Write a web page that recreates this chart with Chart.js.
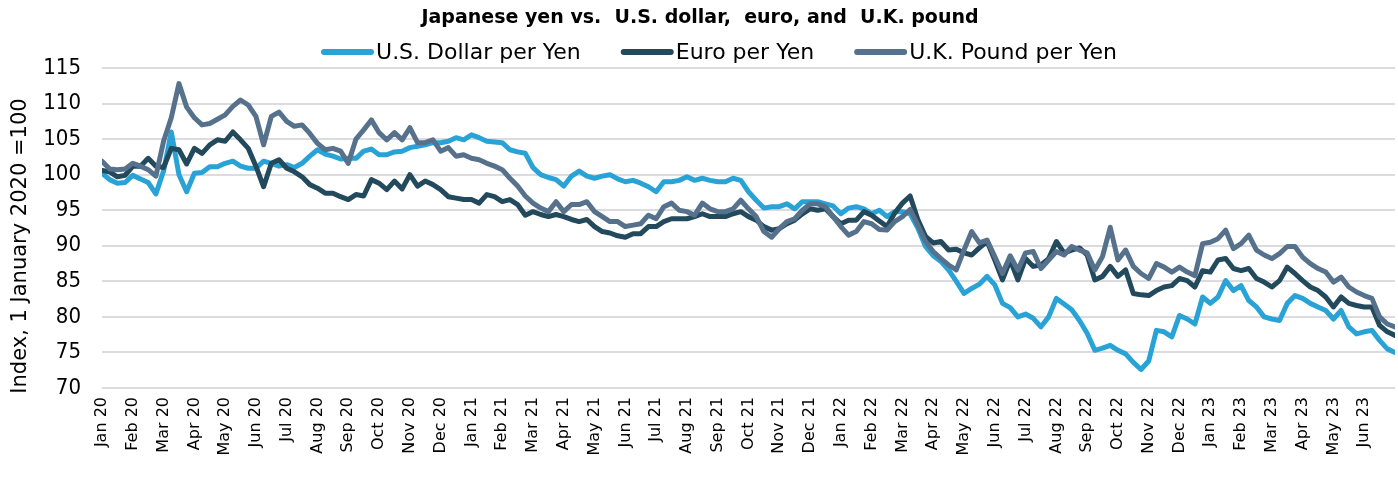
<!DOCTYPE html>
<html>
<head>
<meta charset="utf-8">
<title>Japanese yen vs. U.S. dollar, euro, and U.K. pound</title>
<script src="https://cdn.jsdelivr.net/npm/chart.js@4.4.1/dist/chart.umd.min.js"></script>
<style>
  html, body { margin: 0; padding: 0; background: #ffffff; }
  #wrap { width: 1398px; height: 477px; }
</style>
</head>
<body>
<div id="wrap"><canvas id="chart-yen" width="1398" height="477"></canvas></div>
<script>
// Yen index vs USD / EUR / GBP, 1 Jan 2020 = 100
const TITLE = "Japanese yen vs.  U.S. dollar,  euro, and  U.K. pound";
const Y_TITLE = "Index, 1 January 2020 =100";

const MONTH_LABELS = [
  "Jan 20", "Feb 20", "Mar 20", "Apr 20", "May 20", "Jun 20", "Jul 20", "Aug 20", "Sep 20", "Oct 20", "Nov 20", "Dec 20",
  "Jan 21", "Feb 21", "Mar 21", "Apr 21", "May 21", "Jun 21", "Jul 21", "Aug 21", "Sep 21", "Oct 21", "Nov 21", "Dec 21",
  "Jan 22", "Feb 22", "Mar 22", "Apr 22", "May 22", "Jun 22", "Jul 22", "Aug 22", "Sep 22", "Oct 22", "Nov 22", "Dec 22",
  "Jan 23", "Feb 23", "Mar 23", "Apr 23", "May 23", "Jun 23",
];

const Y_TICKS = [70, 75, 80, 85, 90, 95, 100, 105, 110, 115];

const SERIES_NAMES = ["U.S. Dollar per Yen", "Euro per Yen", "U.K. Pound per Yen"];

// sample dates, in months since 1 Jan 2020 (about weekly)
const MONTH_POS = [
  0, 0.25, 0.5, 0.75,  1, 1.25, 1.5, 1.75,  2, 2.25, 2.5, 2.75,  3, 3.25, 3.5, 3.75,
  4, 4.25, 4.5, 4.75,  5, 5.25, 5.5, 5.75,  6, 6.25, 6.5, 6.75,  7, 7.25, 7.5, 7.75,
  8, 8.25, 8.5, 8.75,  9, 9.25, 9.5, 9.75,  10, 10.25, 10.5, 10.75,  11, 11.25, 11.5, 11.75,
  12, 12.25, 12.5, 12.75,  13, 13.25, 13.5, 13.75,  14, 14.25, 14.5, 14.75,  15, 15.25, 15.5, 15.75,
  16, 16.25, 16.5, 16.75,  17, 17.25, 17.5, 17.75,  18, 18.25, 18.5, 18.75,  19, 19.25, 19.5, 19.75,
  20, 20.25, 20.5, 20.75,  21, 21.25, 21.5, 21.75,  22, 22.25, 22.5, 22.75,  23, 23.25, 23.5, 23.75,
  24, 24.25, 24.5, 24.75,  25, 25.25, 25.5, 25.75,  26, 26.25, 26.5, 26.75,  27, 27.25, 27.5, 27.75,
  28, 28.25, 28.5, 28.75,  29, 29.25, 29.5, 29.75,  30, 30.25, 30.5, 30.75,  31, 31.25, 31.5, 31.75,
  32, 32.25, 32.5, 32.75,  33, 33.25, 33.5, 33.75,  34, 34.25, 34.5, 34.75,  35, 35.25, 35.5, 35.75,
  36, 36.25, 36.5, 36.75,  37, 37.25, 37.5, 37.75,  38, 38.25, 38.5, 38.75,  39, 39.25, 39.5, 39.75,
  40, 40.25, 40.5, 40.75,  41, 41.25, 41.5, 41.75,  42,
];

const USD = [
  100.2, 99.3, 98.8, 98.9,  99.9, 99.4, 98.9, 97.3,  100.5, 106.0, 100.0, 97.6,  100.2, 100.3, 101.1, 101.1,
  101.6, 101.9, 101.2, 100.9,  100.9, 101.9, 101.6, 101.2,  101.4, 101.0, 101.6, 102.6,  103.5, 102.9, 102.6, 102.2,
  102.3, 102.3, 103.3, 103.6,  102.8, 102.8, 103.2, 103.3,  103.8, 104.0, 104.2, 104.5,  104.5, 104.7, 105.2, 104.9,
  105.6, 105.2, 104.7, 104.6,  104.5, 103.5, 103.2, 103.0,  101.0, 100.0, 99.6, 99.3,  98.4, 99.8, 100.5, 99.8,
  99.5, 99.8, 100.0, 99.4,  99.0, 99.2, 98.8, 98.3,  97.6, 99.0, 99.0, 99.2,  99.7, 99.2, 99.5, 99.2,
  99.0, 99.0, 99.5, 99.2,  97.6, 96.4, 95.3, 95.5,  95.5, 95.9, 95.2, 96.2,  96.2, 96.2, 95.9, 95.6,
  94.5, 95.3, 95.5, 95.2,  94.5, 95.0, 94.1, 94.8,  94.8, 94.5, 92.5, 89.9,  88.6, 87.8, 86.6, 85.0,
  83.3, 84.0, 84.6, 85.7,  84.5, 81.9, 81.3, 80.0,  80.4, 79.8, 78.6, 80.0,  82.6, 81.8, 81.0, 79.5,
  77.7, 75.3, 75.6, 76.0,  75.3, 74.8, 73.6, 72.6,  73.8, 78.1, 77.9, 77.2,  80.2, 79.7, 79.0, 82.8,
  81.9, 82.8, 85.1, 83.7,  84.4, 82.3, 81.4, 80.0,  79.7, 79.5, 81.9, 83.0,  82.6, 81.9, 81.4, 80.9,
  79.7, 80.9, 78.6, 77.6,  77.9, 78.1, 76.7, 75.5,  75.0,
];

const EUR = [
  100.6, 100.4, 99.7, 99.9,  101.2, 101.2, 102.3, 101.2,  101.0, 103.7, 103.5, 101.5,  103.7, 103.0, 104.2, 104.9,
  104.7, 106.0, 104.9, 103.7,  101.2, 98.3, 101.6, 102.1,  100.9, 100.4, 99.7, 98.6,  98.1, 97.4, 97.4, 96.9,
  96.5, 97.2, 97.0, 99.3,  98.8, 97.9, 99.1, 98.0,  100.0, 98.4, 99.1, 98.6,  97.9, 96.9, 96.7, 96.5,
  96.5, 96.0, 97.2, 96.9,  96.2, 96.5, 95.8, 94.3,  94.8, 94.4, 94.1, 94.4,  94.1, 93.7, 93.4, 93.7,
  92.7, 92.0, 91.8, 91.4,  91.2, 91.7, 91.7, 92.7,  92.7, 93.4, 93.8, 93.8,  93.8, 94.1, 94.5, 94.1,
  94.1, 94.1, 94.5, 94.8,  94.1, 93.6, 92.7, 92.2,  92.4, 93.1, 93.6, 94.5,  95.2, 95.0, 95.2, 94.1,
  93.1, 93.6, 93.6, 94.8,  94.3, 93.5, 92.7, 94.6,  96.0, 97.0, 93.7, 91.3,  90.4, 90.6, 89.4, 89.5,
  89.0, 88.7, 89.7, 90.6,  88.0, 85.2, 88.0, 85.2,  88.2, 87.1, 87.3, 88.2,  90.6, 89.0, 89.4, 89.7,
  88.7, 85.2, 85.7, 87.1,  85.7, 86.6, 83.3, 83.1,  83.0, 83.7, 84.2, 84.4,  85.4, 85.1, 84.2, 86.5,
  86.3, 88.0, 88.2, 86.8,  86.5, 86.8, 85.4, 84.9,  84.2, 85.1, 87.0, 86.1,  85.1, 84.2, 83.7, 82.8,
  81.4, 82.8, 81.9, 81.6,  81.4, 81.4, 78.8, 77.9,  77.4,
];

const GBP = [
  101.9, 100.8, 100.7, 100.8,  101.6, 101.2, 100.7, 99.8,  104.7, 108.0, 112.8, 109.5,  108.0, 107.0, 107.2, 107.8,
  108.4, 109.6, 110.5, 109.8,  108.2, 104.2, 108.2, 108.8,  107.5, 106.8, 107.0, 105.8,  104.4, 103.5, 103.7, 103.3,
  101.6, 105.0, 106.3, 107.7,  105.9, 104.9, 105.9, 104.9,  106.6, 104.5, 104.5, 104.9,  103.3, 103.8, 102.6, 102.8,
  102.3, 102.1, 101.6, 101.2,  100.7, 99.5, 98.4, 97.0,  96.0, 95.3, 94.8, 96.2,  94.8, 95.8, 95.8, 96.2,
  94.8, 94.1, 93.4, 93.4,  92.7, 92.9, 93.1, 94.3,  93.8, 95.5, 96.0, 95.0,  94.8, 94.3, 96.0, 95.2,
  94.8, 94.8, 95.2, 96.4,  95.2, 94.1, 92.0, 91.2,  92.4, 93.4, 93.8, 95.0,  95.9, 95.9, 95.5, 94.1,
  92.7, 91.5, 92.0, 93.4,  93.1, 92.3, 92.2, 93.4,  94.1, 95.1, 92.9, 90.6,  89.2, 88.2, 87.3, 86.6,
  89.4, 92.0, 90.4, 90.8,  88.5, 86.1, 88.6, 86.6,  89.0, 89.2, 86.8, 88.0,  89.2, 88.7, 89.9, 89.4,
  89.0, 86.6, 88.5, 92.6,  88.0, 89.4, 87.1, 86.1,  85.4, 87.5, 87.0, 86.3,  87.0, 86.3, 85.8, 90.3,
  90.5, 91.0, 92.2, 89.6,  90.3, 91.5, 89.4, 88.7,  88.2, 88.9, 89.9, 89.9,  88.4, 87.5, 86.8, 86.3,
  84.9, 85.6, 84.2, 83.5,  83.0, 82.6, 80.0, 79.0,  78.6,
];

const COLORS = ["#29a3d6", "#23495d", "#56718c"];
const FONT_SANS = "'DejaVu Sans', sans-serif";
const FONT_NARROW = "'DejaVu Sans Condensed', 'DejaVu Sans', sans-serif";

const toPoints = (vals) => MONTH_POS.map((m, i) => ({ x: m, y: vals[i] }));

// title, line-sample legend and y title, drawn by hand so spacing matches
const headerPlugin = {
  id: "header",
  afterDraw(chart) {
    const { ctx, chartArea } = chart;
    ctx.save();
    ctx.fillStyle = "#000000";
    ctx.textBaseline = "middle";
    ctx.textAlign = "center";
    ctx.font = "bold 19px " + FONT_SANS;
    ctx.fillText(TITLE, 700, 18);

    ctx.font = "22px " + FONT_SANS;
    ctx.textAlign = "left";
    const sampleW = 53, gap = 2, spacing = 40;
    const items = chart.data.datasets.map((ds) => ({
      label: ds.label,
      color: ds.borderColor,
      w: ctx.measureText(ds.label).width,
    }));
    const total = items.reduce((s, it) => s + sampleW + gap + it.w, 0) + spacing * (items.length - 1);
    let x = 719 - total / 2;
    const y = 52;
    for (const it of items) {
      ctx.strokeStyle = it.color;
      ctx.lineWidth = 6;
      ctx.lineCap = "round";
      ctx.beginPath();
      ctx.moveTo(x + 3, y);
      ctx.lineTo(x + sampleW - 3, y);
      ctx.stroke();
      ctx.fillText(it.label, x + sampleW + gap, y + 1);
      x += sampleW + gap + it.w + spacing;
    }

    // y-axis title, a bit below the plot centre as in the source
    ctx.font = "21px " + FONT_SANS;
    ctx.textAlign = "center";
    ctx.translate(21, (chartArea.top + chartArea.bottom) / 2 + 18);
    ctx.rotate(-Math.PI / 2);
    ctx.fillText(Y_TITLE, 0, 0);
    ctx.restore();
  },
};

const datasets = [USD, EUR, GBP].map((vals, i) => ({
  label: SERIES_NAMES[i],
  data: toPoints(vals),
  borderColor: COLORS[i],
  backgroundColor: COLORS[i],
  borderWidth: 5,
  borderJoinStyle: "round",
  borderCapStyle: "round",
  pointRadius: 0,
  tension: 0,
  order: 2 - i, // pound line on top
}));

new Chart(document.getElementById("chart-yen"), {
  type: "line",
  data: { datasets },
  plugins: [headerPlugin],
  options: {
    responsive: false,
    animation: false,
    devicePixelRatio: 1,
    layout: { padding: { top: 68, right: 3, left: 0, bottom: 0 } },
    plugins: {
      legend: { display: false },
      title: { display: false },
      tooltip: { enabled: false },
    },
    scales: {
      x: {
        type: "linear",
        min: 0,
        max: 42,
        afterFit: (scale) => { scale.height = 89; },
        afterBuildTicks: (scale) => {
          scale.ticks = MONTH_LABELS.map((_, i) => ({ value: i }));
        },
        ticks: {
          autoSkip: false,
          maxRotation: 90,
          minRotation: 90,
          padding: 9,
          color: "#000000",
          font: { family: FONT_SANS, size: 16 },
          callback: (v) => MONTH_LABELS[v] ?? "",
        },
        grid: { display: false, drawTicks: false },
        border: { display: false },
      },
      y: {
        min: 70,
        max: 115,
        afterFit: (scale) => { scale.width = 102; },
        afterBuildTicks: (scale) => {
          scale.ticks = Y_TICKS.map((v) => ({ value: v }));
        },
        ticks: {
          padding: 21,
          color: "#000000",
          font: { family: FONT_NARROW, size: 22 },
        },
        grid: { color: "#dcdbe0", lineWidth: 2, drawTicks: false },
        border: { display: false },
      },
    },
  },
});
</script>
</body>
</html>
